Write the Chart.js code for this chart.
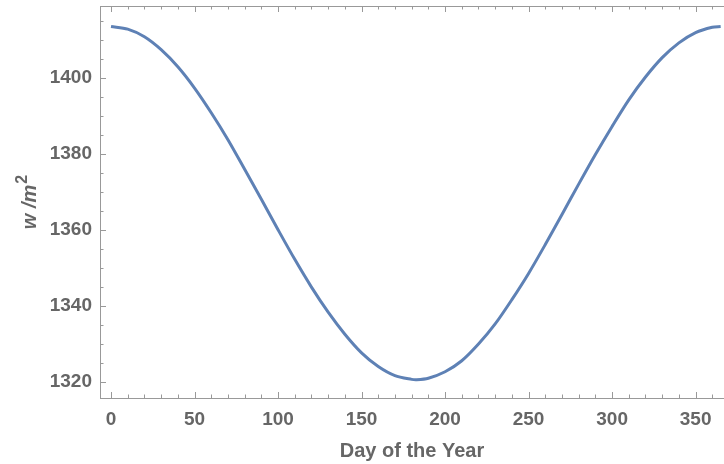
<!DOCTYPE html>
<html>
<head>
<meta charset="utf-8">
<script src="https://cdn.jsdelivr.net/npm/chart.js@4"></script>
<style>
  html, body { margin: 0; padding: 0; background: #fff; }
  #wrap { width: 724px; height: 464px; }
</style>
</head>
<body>
<div id="wrap"><canvas id="irradianceChart"></canvas></div>
<script>
// values
const days = [0, 10, 20, 30, 40, 50, 60, 70, 80, 90, 100, 110, 120, 130, 140, 150, 160, 170, 180, 183, 190, 200, 210, 220, 230, 240, 250, 260, 270, 280, 290, 300, 310, 320, 330, 340, 350, 360, 365];
const irradiance = [1413.5, 1412.8, 1410.8, 1407.4, 1402.9, 1397.3, 1390.8, 1383.7, 1375.9, 1368.0, 1360.0, 1352.2, 1344.9, 1338.3, 1332.5, 1327.6, 1324.0, 1321.6, 1320.6, 1320.5, 1320.9, 1322.6, 1325.5, 1329.9, 1335.2, 1341.6, 1348.5, 1356.1, 1364.0, 1372.0, 1379.8, 1387.2, 1394.2, 1400.2, 1405.3, 1409.2, 1411.9, 1413.3, 1413.5];
const xTicks = [0, 50, 100, 150, 200, 250, 300, 350];
const yTicks = [1320, 1340, 1360, 1380, 1400];

const frameColor = '#999999';
const textColor = '#666666';
const fontFamily = 'Liberation Sans, Arial';

// Mathematica style frame: inward ticks on all sides, plus the w/m^2 label
const framePlugin = {
    id: 'frame',
    afterDraw(chart) {
        const { ctx, chartArea: a, scales: { x, y } } = chart;
        ctx.save();
        ctx.strokeStyle = frameColor;
        ctx.lineWidth = 1;
        ctx.beginPath();
        ctx.moveTo(a.left, a.top + 0.5);
        ctx.lineTo(a.right, a.top + 0.5);
        ctx.stroke();

        ctx.beginPath();
        for (let d = 0; d <= 360; d += 10) {
            const px = Math.round(x.getPixelForValue(d)) + 0.5;
            const len = d % 50 === 0 ? 6 : 3.5;
            ctx.moveTo(px, a.bottom); ctx.lineTo(px, a.bottom - len);
            ctx.moveTo(px, a.top); ctx.lineTo(px, a.top + len);
        }
        for (let v = 1320; v <= 1415; v += 5) {
            const py = Math.round(y.getPixelForValue(v)) + 0.5;
            const len = v % 20 === 0 ? 6 : 3.5;
            ctx.moveTo(a.left, py); ctx.lineTo(a.left + len, py);
        }
        ctx.stroke();

        // y axis title with a real superscript
        const base = 'w /m', sup = '2';
        ctx.fillStyle = textColor;
        ctx.textBaseline = 'alphabetic';
        ctx.font = 'italic bold 20px ' + fontFamily;
        const wBase = ctx.measureText(base).width;
        ctx.font = 'bold 16px ' + fontFamily;
        const wSup = ctx.measureText(sup).width;
        const total = wBase + 1 + wSup;
        ctx.translate(36, (a.top + a.bottom) / 2);
        ctx.rotate(-Math.PI / 2);
        ctx.font = 'italic bold 20px ' + fontFamily;
        ctx.fillText(base, -total / 2, 0);
        ctx.font = 'bold 16px ' + fontFamily;
        ctx.fillText(sup, -total / 2 + wBase + 1, -9);
        ctx.restore();
    }
};

const points = days.map((d, i) => ({ x: d, y: irradiance[i] }));

new Chart(document.getElementById('irradianceChart'), {
    type: 'line',
    data: {
        datasets: [{
            data: points,
            borderColor: '#5e81b5',
            borderWidth: 3,
            pointRadius: 0,
            tension: 0.3,
            fill: false
        }]
    },
    options: {
        responsive: true,
        maintainAspectRatio: false,
        animation: false,
        layout: { padding: { top: 6, right: 0, left: 0, bottom: 0 } },
        plugins: { legend: { display: false }, tooltip: { enabled: false } },
        scales: {
            x: {
                type: 'linear',
                min: -6.6,
                max: 367,
                afterBuildTicks: s => { s.ticks = xTicks.map(v => ({ value: v })); },
                afterFit: s => { s.height = 66; s.paddingLeft = 0; s.paddingRight = 0; },
                grid: { display: true, drawOnChartArea: false, drawTicks: false },
                border: { display: true, color: frameColor, width: 1 },
                ticks: {
                    padding: 10,
                    color: textColor,
                    callback: v => String(v),
                    font: { family: fontFamily, size: 19, weight: 'bold' }
                },
                title: {
                    display: true,
                    text: 'Day of the Year',
                    color: textColor,
                    padding: { top: 0, bottom: 1 },
                    font: { family: fontFamily, size: 20, weight: 'bold', lineHeight: 1.2 }
                }
            },
            y: {
                min: 1315.7,
                max: 1418.9,
                afterBuildTicks: s => { s.ticks = yTicks.map(v => ({ value: v })); },
                afterFit: s => { s.width = 100; s.paddingTop = 0; s.paddingBottom = 0; },
                grid: { display: true, drawOnChartArea: false, drawTicks: false },
                border: { display: true, color: frameColor, width: 1 },
                ticks: {
                    padding: 8,
                    color: textColor,
                    callback: v => String(v),
                    font: { family: fontFamily, size: 19, weight: 'bold' }
                }
            }
        }
    },
    plugins: [framePlugin]
});
</script>
</body>
</html>
